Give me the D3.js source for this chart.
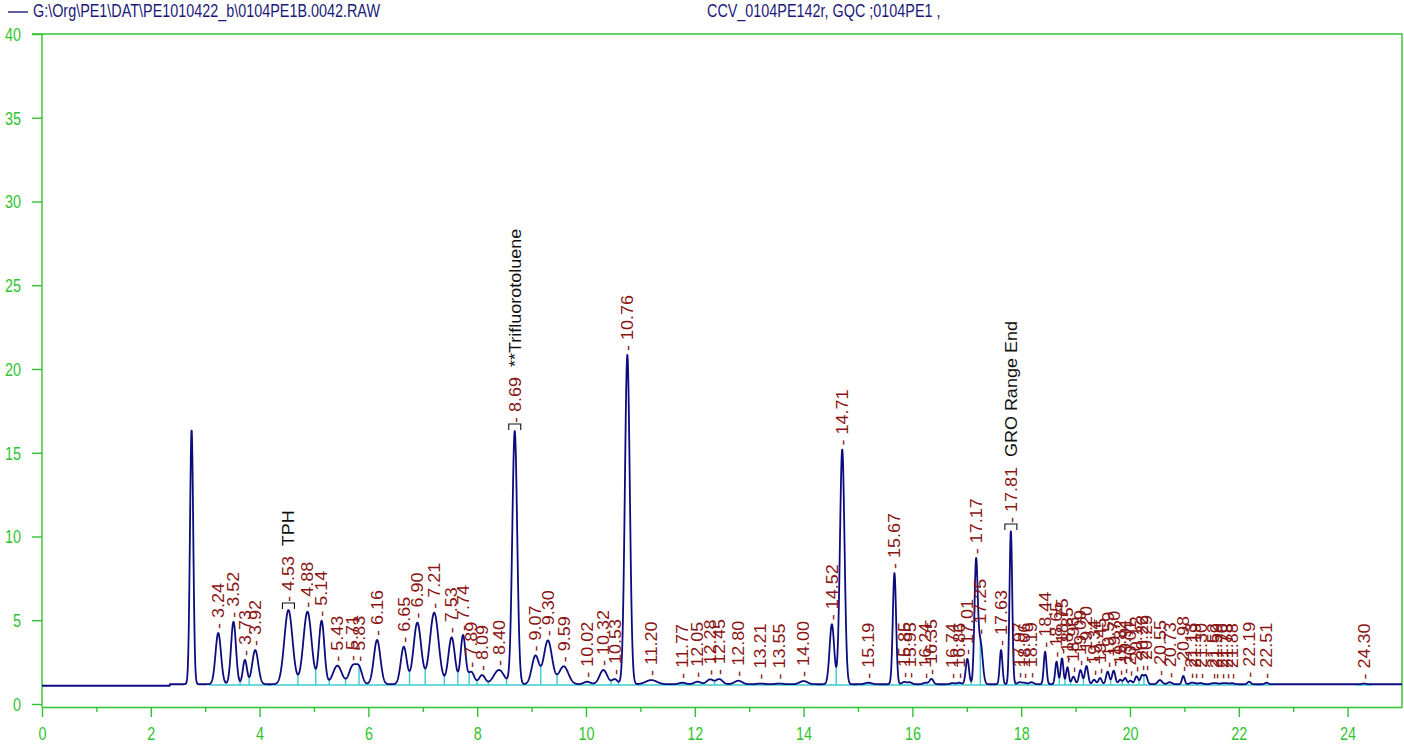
<!DOCTYPE html>
<html>
<head>
<meta charset="utf-8">
<script src="https://cdn.jsdelivr.net/npm/d3@7"></script>
<style>
  body { margin: 0; background: #fff; }
  svg { display: block; }
  text { font-family: "Liberation Sans", Arial, Helvetica, sans-serif; }
</style>
</head>
<body>
<svg id="chart" width="1404" height="747"></svg>
<script>
// ---- header text ----
const fileName = "G:\\Org\\PE1\\DAT\\PE1010422_b\\0104PE1B.0042.RAW";
const runInfo = "CCV_0104PE142r, GQC ;0104PE1 ,";

// ---- axes ----
const xMajorTicks = [0, 2, 4, 6, 8, 10, 12, 14, 16, 18, 20, 22, 24];
const xMinorTicks = [1, 3, 5, 7, 9, 11, 13, 15, 17, 19, 21, 23];
const yTicks = [0, 5, 10, 15, 20, 25, 30, 35, 40];

// ---- detector baseline (response before / after the solvent front) ----
const baselineBreak = 2.35;
const baselineEarly = 1.09;
const baselineLate = 1.18;
const integrationLevel = 1.13;

// ---- peak table: retention time (min), apex response, peak sigma (min) ----
const peakRT = [2.75, 3.24, 3.52, 3.73, 3.92, 4.53, 4.88, 5.14, 5.43, 5.71, 5.83, 6.16, 6.65, 6.90,
  7.21, 7.53, 7.74, 7.89, 8.09, 8.40, 8.69, 9.07, 9.30, 9.59, 10.02, 10.32, 10.53, 10.76,
  11.20, 11.77, 12.05, 12.28, 12.45, 12.80, 13.21, 13.55, 14.00, 14.52, 14.71, 15.19, 15.67,
  15.85, 15.95, 16.24, 16.35, 16.74, 16.86, 17.01, 17.17, 17.25, 17.63, 17.81, 17.97, 18.06,
  18.19, 18.44, 18.65, 18.75, 18.85, 18.96, 19.09, 19.20, 19.34, 19.45, 19.59, 19.70, 19.82,
  19.91, 20.01, 20.12, 20.22, 20.29, 20.55, 20.73, 20.98, 21.13, 21.19, 21.30, 21.52, 21.59,
  21.70, 21.78, 21.88, 22.19, 22.51, 24.30];
const peakApex = [16.36, 4.24, 4.91, 2.63, 3.22, 5.61, 5.51, 4.97, 2.29, 2.33, 2.29, 3.82, 3.42, 4.86,
  5.45, 3.98, 4.12, 1.93, 1.73, 2.03, 16.30, 2.90, 3.80, 2.25, 1.33, 2.03, 1.49, 20.84,
  1.43, 1.27, 1.33, 1.47, 1.49, 1.39, 1.22, 1.22, 1.37, 4.76, 15.20, 1.27, 7.82,
  1.32, 1.30, 1.27, 1.50, 1.25, 1.27, 2.69, 8.70, 3.90, 3.22, 10.33, 1.30, 1.27,
  1.30, 3.12, 2.53, 2.73, 2.20, 1.63, 2.03, 2.27, 1.45, 1.55, 1.93, 1.99, 1.45,
  1.55, 1.40, 1.65, 1.73, 1.73, 1.43, 1.30, 1.67, 1.27, 1.25, 1.25, 1.24, 1.24,
  1.24, 1.24, 1.24, 1.33, 1.27, 1.22];
const peakSigma = [0.030, 0.050, 0.045, 0.038, 0.055, 0.075, 0.075, 0.050, 0.080, 0.065, 0.055, 0.060, 0.055, 0.070,
  0.080, 0.060, 0.045, 0.055, 0.055, 0.095, 0.045, 0.065, 0.075, 0.085, 0.060, 0.070, 0.050, 0.045,
  0.100, 0.060, 0.060, 0.060, 0.060, 0.070, 0.070, 0.070, 0.070, 0.042, 0.042, 0.060, 0.030,
  0.040, 0.040, 0.040, 0.035, 0.040, 0.040, 0.030, 0.030, 0.040, 0.025, 0.025, 0.040, 0.040,
  0.040, 0.025, 0.025, 0.025, 0.025, 0.030, 0.030, 0.030, 0.030, 0.030, 0.030, 0.030, 0.030,
  0.030, 0.030, 0.030, 0.030, 0.030, 0.040, 0.040, 0.025, 0.040, 0.040, 0.040, 0.040, 0.040,
  0.040, 0.040, 0.040, 0.030, 0.030, 0.040];
// retention-time labels ("" = peak not integrated)
const peakLabel = ["", "3.24", "3.52", "3.73", "3.92", "4.53", "4.88", "5.14", "5.43", "5.71", "5.83", "6.16", "6.65", "6.90",
  "7.21", "7.53", "7.74", "7.89", "8.09", "8.40", "8.69", "9.07", "9.30", "9.59", "10.02", "10.32", "10.53", "10.76",
  "11.20", "11.77", "12.05", "12.28", "12.45", "12.80", "13.21", "13.55", "14.00", "14.52", "14.71", "15.19", "15.67",
  "15.85", "15.95", "16.24", "16.35", "16.74", "16.86", "17.01", "17.17", "17.25", "17.63", "17.81", "17.97", "18.06",
  "18.19", "18.44", "18.65", "18.75", "18.85", "18.96", "19.09", "19.20", "19.34", "19.45", "19.59", "19.70", "19.82",
  "19.91", "20.01", "20.12", "20.22", "20.29", "20.55", "20.73", "20.98", "21.13", "21.19", "21.30", "21.52", "21.59",
  "21.70", "21.78", "21.88", "22.19", "22.51", "24.30"];
// named components
const namedRT = [4.53, 8.69, 17.81];
const namedText = ["TPH", "**Trifluorotoluene", "GRO Range End"];

// ---- layout ----
const plot = { left: 42, right: 1402, top: 34, bottom: 704 };
const colors = {
  axis: "#2fc42f", trace: "#0c0c7e", label: "#8a1414", name: "#111111",
  integ: "#3ccad2", header: "#1a1a7a"
};
const FS = 18;        // plotter font size
const SQ = 0.8;       // horizontal squeeze of upright text
const SQV = 0.9;      // squeeze of vertical label glyphs

const svg = d3.select("#chart");
const x = d3.scaleLinear().domain([0, 25]).range([plot.left, plot.right]);
const y = d3.scaleLinear().domain([0, 40]).range([plot.bottom, plot.top]);

// ---- build trace from the peak table ----
const baseAt = t => (t < baselineBreak ? baselineEarly : baselineLate);
const heights = peakApex.map((a, i) => Math.max(0, a - baseAt(peakRT[i])));
const signal = t => {
  let s = baseAt(t);
  for (let i = 0; i < peakRT.length; i++) {
    const d = (t - peakRT[i]) / peakSigma[i];
    if (Math.abs(d) < 8) s += heights[i] * Math.exp(-0.5 * d * d);
  }
  return s;
};
// adjust heights so overlapping peaks still reach their apex response
for (let k = 0; k < 100; k++) {
  const f = peakRT.map(signal);
  for (let i = 0; i < peakRT.length; i++) {
    heights[i] = Math.max(0, heights[i] + 0.5 * (peakApex[i] - f[i]));
  }
}
const times = d3.range(0, 25.0001, 0.004);
const trace = times.map(t => [t, signal(t)]);

// ---- header ----
const header = svg.append("g");
header.append("line").attr("x1", 8).attr("x2", 28).attr("y1", 12).attr("y2", 12)
  .attr("stroke", colors.header).attr("stroke-width", 1.4);
header.append("text").attr("transform", `translate(33,17) scale(${SQ},1)`)
  .attr("font-size", FS).attr("fill", colors.header).text(fileName);
header.append("text").attr("transform", `translate(707,17) scale(${SQ},1)`)
  .attr("font-size", FS).attr("fill", colors.header).text(runInfo);

// ---- axes ----
const axisY = plot.bottom + 3;
const gx = svg.append("g").attr("transform", `translate(0,${axisY})`)
  .call(d3.axisBottom(x).tickValues(xMajorTicks).tickSize(10).tickSizeOuter(0).tickFormat(d3.format("d")));
const gxMinor = svg.append("g").attr("transform", `translate(0,${axisY})`)
  .call(d3.axisBottom(x).tickValues(xMinorTicks).tickSize(5).tickSizeOuter(0).tickFormat(""));
gxMinor.select(".domain").remove();
const gy = svg.append("g").attr("transform", `translate(${plot.left},0)`)
  .call(d3.axisLeft(y).tickValues(yTicks).tickSize(10).tickSizeOuter(0).tickFormat(d3.format("d")));

[gx, gxMinor, gy].forEach(g => {
  g.selectAll("line").attr("stroke", colors.axis).attr("stroke-width", 1.4);
  g.selectAll(".domain").attr("stroke", colors.axis).attr("stroke-width", 1.4);
});
gy.select(".domain").attr("d", `M0,${plot.top}V${axisY}`);
gx.selectAll("text").attr("font-size", FS).attr("fill", colors.axis)
  .attr("font-family", null).attr("y", 0).attr("dy", 0)
  .attr("transform", `translate(0,33) scale(${SQ},1)`);
gy.selectAll("text").attr("font-size", FS).attr("fill", colors.axis)
  .attr("font-family", null).attr("x", 0).attr("dy", "0.35em")
  .attr("transform", `translate(-21,0) scale(${SQ},1)`);

// frame: top and right edges
svg.append("path")
  .attr("d", `M${plot.left - 10},${plot.top}H${plot.right}V${axisY}`)
  .attr("fill", "none").attr("stroke", colors.axis).attr("stroke-width", 1.4);

// ---- integration baselines ----
const labelled = peakRT.map((t, i) => i).filter(i => peakLabel[i] !== "");
const segs = [];
labelled.forEach(i => {
  const a = peakRT[i] - 3.5 * peakSigma[i], b = peakRT[i] + 3.5 * peakSigma[i];
  const last = segs[segs.length - 1];
  if (last && a - last[1] < 1.2) last[1] = Math.max(last[1], b);
  else segs.push([a, b]);
});
const integ = svg.append("g").attr("stroke", colors.integ).attr("stroke-width", 1.4);
segs.forEach(s => integ.append("line")
  .attr("x1", x(s[0])).attr("x2", x(s[1]))
  .attr("y1", y(integrationLevel)).attr("y2", y(integrationLevel)));

// drop lines at valleys between neighbouring integrated peaks
for (let k = 0; k < labelled.length - 1; k++) {
  const i = labelled[k], j = labelled[k + 1];
  const seg = trace.filter(p => p[0] > peakRT[i] && p[0] < peakRT[j]);
  if (!seg.length) continue;
  const m = d3.least(seg, p => p[1]);
  if (m[1] - baselineLate > 0.12) {
    integ.append("line").attr("x1", x(m[0])).attr("x2", x(m[0]))
      .attr("y1", y(integrationLevel)).attr("y2", y(m[1]));
  }
}

// ---- chromatogram trace ----
svg.append("path").datum(trace)
  .attr("d", d3.line().x(d => x(d[0])).y(d => y(d[1])))
  .attr("fill", "none").attr("stroke", colors.trace).attr("stroke-width", 1.8)
  .attr("stroke-linejoin", "round");

// ---- peak labels ----
const labels = svg.append("g");
labelled.forEach(i => {
  const px = x(peakRT[i]);
  const py = y(peakApex[i]);
  const nIdx = namedRT.indexOf(peakRT[i]);
  let gap = 4;
  if (nIdx >= 0) {
    // component marker above the apex
    labels.append("path")
      .attr("d", `M${px - 6},${py - 1}V${py - 7}H${px + 6}V${py - 1}`)
      .attr("fill", "none").attr("stroke", colors.name).attr("stroke-width", 1.1);
    gap = 8;
  }
  const t = labels.append("text")
    .attr("transform", `translate(${px},${py - gap}) scale(${SQV},1) rotate(-90)`)
    .attr("dy", "0.36em").attr("font-size", FS).attr("fill", colors.label)
    .text(`- ${peakLabel[i]}`);
  if (nIdx >= 0) {
    t.append("tspan").attr("dx", "0.55em").attr("fill", colors.name).text(namedText[nIdx]);
  }
});
</script>
</body>
</html>
